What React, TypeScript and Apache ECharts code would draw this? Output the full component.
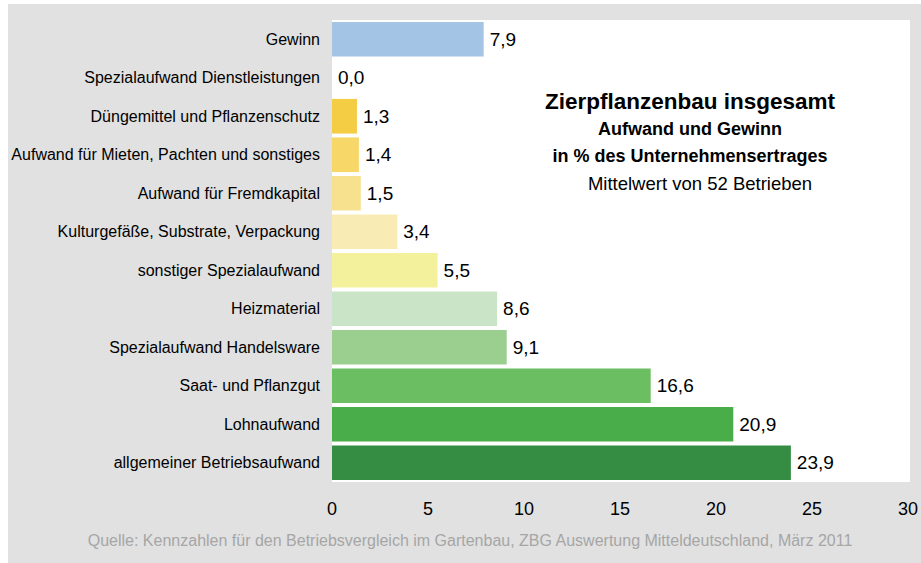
import React, { useEffect, useRef } from "react";
import * as echarts from "echarts";

const categories = [
  "Gewinn",
  "Spezialaufwand Dienstleistungen",
  "Düngemittel und Pflanzenschutz",
  "Aufwand für Mieten, Pachten und sonstiges",
  "Aufwand für Fremdkapital",
  "Kulturgefäße, Substrate, Verpackung",
  "sonstiger Spezialaufwand",
  "Heizmaterial",
  "Spezialaufwand Handelsware",
  "Saat- und Pflanzgut",
  "Lohnaufwand",
  "allgemeiner Betriebsaufwand",
];
const values = [7.9, 0.0, 1.3, 1.4, 1.5, 3.4, 5.5, 8.6, 9.1, 16.6, 20.9, 23.9];
const colors = [
  "#a4c4e6",
  "#f5cd45",
  "#f5cd45",
  "#f6d767",
  "#f7e18f",
  "#f8ecb4",
  "#f4f19c",
  "#c9e4c6",
  "#9bcf8f",
  "#6bbf62",
  "#49ae4a",
  "#358c43",
];
const xTicks = [0, 5, 10, 15, 20, 25, 30];

const titleLines = [
  "Zierpflanzenbau insgesamt",
  "Aufwand und Gewinn",
  "in % des Unternehmensertrages",
  "Mittelwert von 52 Betrieben",
];
const sourceText =
  "Quelle: Kennzahlen für den Betriebsvergleich im Gartenbau, ZBG Auswertung Mitteldeutschland, März 2011";

export default function App() {
  const ref = useRef<HTMLDivElement>(null);
  useEffect(() => {
    if (!ref.current) return;
    const chart = echarts.init(ref.current, null, { renderer: "svg" });
    const font = "Liberation Sans, Arial, sans-serif";
    chart.setOption({
      animation: false,
      backgroundColor: "#ffffff",
      textStyle: { fontFamily: font },
      graphic: [
        {
          type: "rect",
          z: -10,
          silent: true,
          shape: { x: 8, y: 4, width: 913, height: 559 },
          style: { fill: "#e1e1e1" },
        },
        {
          type: "rect",
          z: -9,
          silent: true,
          shape: { x: 332, y: 20, width: 578, height: 462 },
          style: { fill: "#ffffff" },
        },
        {
          type: "text",
          x: 690,
          y: 90,
          style: {
            text: titleLines[0],
            font: "bold 22.5px " + font,
            fill: "#000",
            textAlign: "center",
          },
        },
        {
          type: "text",
          x: 690,
          y: 120,
          style: {
            text: titleLines[1],
            font: "bold 18px " + font,
            fill: "#000",
            textAlign: "center",
          },
        },
        {
          type: "text",
          x: 690,
          y: 147,
          style: {
            text: titleLines[2],
            font: "bold 18px " + font,
            fill: "#000",
            textAlign: "center",
          },
        },
        {
          type: "text",
          x: 700,
          y: 174,
          style: {
            text: titleLines[3],
            font: "18.5px " + font,
            fill: "#000",
            textAlign: "center",
          },
        },
        {
          type: "text",
          x: 470,
          y: 532,
          style: {
            text: sourceText,
            font: "16px " + font,
            fill: "#a6a6a6",
            textAlign: "center",
          },
        },
      ],
      grid: { left: 332, top: 20, width: 578, height: 462, containLabel: false },
      xAxis: {
        type: "value",
        min: 0,
        max: 30,
        interval: 5,
        axisLine: { show: false },
        axisTick: { show: false },
        splitLine: { show: false },
        axisLabel: {
          margin: 18,
          fontSize: 18,
          color: "#000",
          formatter: (v: number) => (xTicks.includes(v) ? String(v) : ""),
        },
      },
      yAxis: {
        type: "category",
        inverse: true,
        data: categories,
        axisLine: { show: false },
        axisTick: { show: false },
        axisLabel: { margin: 12, fontSize: 16, color: "#000" },
      },
      series: [
        {
          type: "bar",
          data: values.map((v, i) => ({ value: v, itemStyle: { color: colors[i] } })),
          barCategoryGap: "10%",
          label: {
            show: true,
            position: "right",
            distance: 6,
            fontSize: 19,
            color: "#000",
            formatter: (p: any) => Number(p.value).toFixed(1).replace(".", ","),
          },
        },
      ],
    });
    return () => chart.dispose();
  }, []);
  return (
    <div
      ref={ref}
      style={{ position: "fixed", left: 0, top: 0, width: 921, height: 563 }}
    />
  );
}
